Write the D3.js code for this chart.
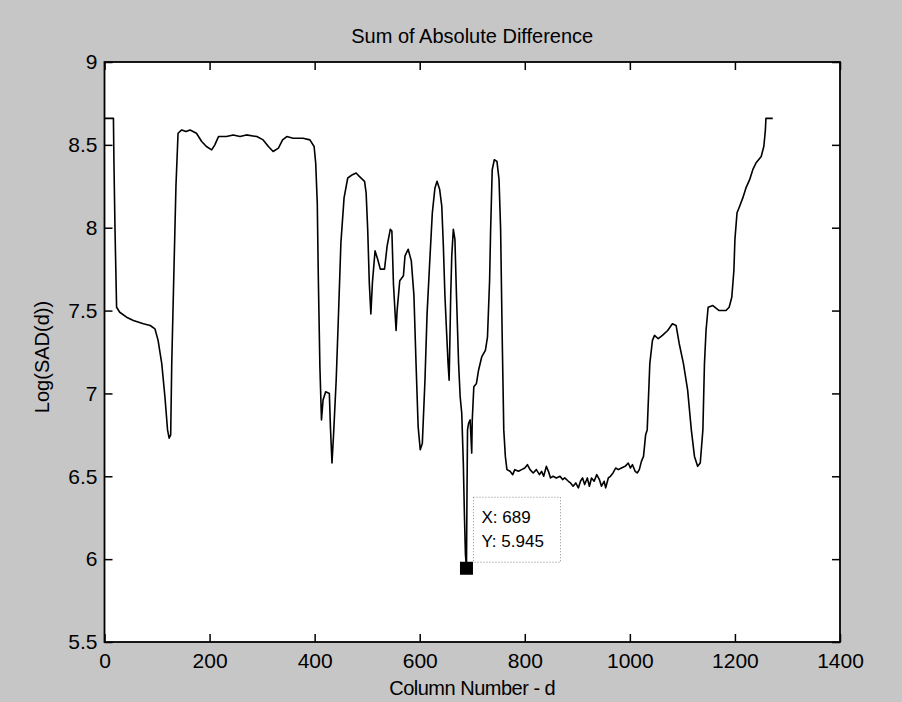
<!DOCTYPE html>
<html>
<head>
<meta charset="utf-8">
<script src="https://cdn.jsdelivr.net/npm/d3@7"></script>
<style>
  body { margin: 0; background: #c6c6c6; }
  svg { display: block; }
</style>
</head>
<body>
<svg id="svg1" width="902" height="702"></svg>
<script>
// column number d
var colNum = [0, 17, 18, 20, 23, 29, 42, 55, 74, 87, 96, 102, 109, 115, 120, 123, 126, 128, 132, 136,
  140, 147, 155, 163, 175, 185, 194, 204, 210, 217, 232, 245, 258, 270, 290, 302, 312, 321, 331, 339,
  347, 359, 378, 391, 399, 402, 405, 407, 410, 413, 416, 421, 428, 430, 433, 436, 441, 445, 450, 456,
  463, 472, 479, 485, 495, 498, 501, 504, 507, 510, 515, 520, 525, 533, 538, 544, 547, 550, 555, 557,
  562, 569, 572, 578, 584, 589, 593, 597, 601, 605, 610, 614, 619, 624, 629, 633, 638, 642, 645, 648,
  651, 654, 656, 659, 661, 664, 667, 670, 674, 677, 680, 683, 685, 687, 689, 690, 691, 693, 696, 699,
  700, 703, 708, 712, 718, 725, 729, 733, 735, 738, 742, 747, 751, 754, 757, 760, 763,
  766, 772, 777, 781, 788, 794, 800, 805, 810, 816, 822, 828, 832, 836, 841, 845, 849, 854, 860,
  867, 872, 876, 883, 887, 892, 897, 902, 906, 910, 914, 919, 923, 927, 932, 937, 942, 946, 951,
  954, 959, 963, 968, 973, 978, 984, 991, 997, 1001, 1005, 1010, 1014, 1018, 1022, 1026, 1030,
  1033, 1038, 1043, 1047, 1054, 1062, 1072, 1081, 1088, 1094, 1102, 1110, 1117, 1123, 1129, 1134,
  1139, 1142, 1145, 1149, 1158, 1170, 1183, 1189, 1194, 1198, 1200, 1204, 1209, 1215, 1221, 1228,
  1234, 1240, 1250, 1255, 1258, 1259, 1272];

// Log(SAD(d))
var logSad = [8.66, 8.66, 8.39, 7.99, 7.52, 7.49, 7.46, 7.44, 7.42, 7.41, 7.39, 7.32, 7.18, 6.98, 6.78, 6.73, 6.75, 7.18, 7.72, 8.25,
  8.57, 8.59, 8.58, 8.59, 8.57, 8.52, 8.49, 8.47, 8.50, 8.55, 8.55, 8.56, 8.55, 8.56, 8.55, 8.53, 8.49, 8.46, 8.48, 8.53,
  8.55, 8.54, 8.54, 8.53, 8.49, 8.39, 8.15, 7.70, 7.16, 6.84, 6.96, 7.01, 7.00, 6.80, 6.58, 6.75, 7.08, 7.44, 7.91, 8.18,
  8.30, 8.32, 8.33, 8.31, 8.28, 8.21, 7.99, 7.67, 7.48, 7.67, 7.86, 7.81, 7.75, 7.75, 7.89, 7.99, 7.98, 7.66, 7.38, 7.50,
  7.68, 7.71, 7.83, 7.87, 7.80, 7.59, 7.18, 6.80, 6.66, 6.70, 7.08, 7.48, 7.79, 8.09, 8.24, 8.28, 8.23, 8.13, 7.89, 7.59,
  7.38, 7.18, 7.08, 7.59, 7.83, 7.99, 7.93, 7.59, 7.18, 6.98, 6.88, 6.58, 6.28, 6.03, 5.945, 6.40, 6.78, 6.82, 6.84, 6.64,
  6.84, 7.04, 7.06, 7.14, 7.22, 7.26, 7.34, 7.68, 7.99, 8.35, 8.41, 8.40, 8.29, 7.99, 7.34, 6.78, 6.62,
  6.54, 6.53, 6.51, 6.54, 6.53, 6.54, 6.55, 6.57, 6.54, 6.52, 6.54, 6.51, 6.53, 6.50, 6.56, 6.53, 6.49, 6.50, 6.49,
  6.50, 6.48, 6.49, 6.47, 6.46, 6.44, 6.46, 6.43, 6.47, 6.49, 6.45, 6.49, 6.44, 6.49, 6.47, 6.51, 6.48, 6.44, 6.47,
  6.43, 6.49, 6.50, 6.52, 6.55, 6.54, 6.55, 6.56, 6.58, 6.55, 6.57, 6.53, 6.52, 6.54, 6.59, 6.62, 6.75,
  6.78, 7.18, 7.32, 7.35, 7.33, 7.35, 7.38, 7.42, 7.41, 7.30, 7.18, 7.02, 6.78, 6.62, 6.56, 6.58,
  6.78, 7.18, 7.38, 7.52, 7.53, 7.50, 7.50, 7.52, 7.58, 7.74, 7.93, 8.09, 8.13, 8.18, 8.24, 8.29,
  8.35, 8.39, 8.43, 8.49, 8.59, 8.66, 8.66];

var xTicks = [0, 200, 400, 600, 800, 1000, 1200, 1400];
var yTicks = [5.5, 6, 6.5, 7, 7.5, 8, 8.5, 9];

// data tip
var tipX = 689;
var tipY = 5.945;

var width = 902;
var height = 702;
var marginLeft = 104.5;
var marginTop = 62;
var plotW = 840 - marginLeft;
var plotH = 642 - marginTop;

var svg0 = d3.select('#svg1');

// gray figure background
svg0.append('rect')
    .attr('width', width).attr('height', height)
    .attr('fill', '#c6c6c6');

var svg = svg0.append('g')
    .attr('transform', 'translate(' + marginLeft + ',' + marginTop + ')');

var scaleX = d3.scaleLinear().domain([0, 1400]).range([0, plotW]);
var scaleY = d3.scaleLinear().domain([5.5, 9]).range([plotH, 0]);

// white plot area
svg.append('rect')
    .attr('width', plotW).attr('height', plotH)
    .attr('fill', 'white');

var font = 'Arial, "Liberation Sans", Helvetica, sans-serif';

function styleAxis(g) {
    g.select('.domain').remove();
    g.selectAll('.tick line').attr('stroke', 'black').attr('stroke-width', 1.5);
    g.selectAll('.tick text')
        .attr('font-family', font)
        .attr('font-size', 21)
        .attr('fill', 'black');
}

// bottom axis (ticks inside)
svg.append('g')
    .attr('transform', 'translate(0,' + plotH + ')')
    .call(d3.axisBottom(scaleX).tickValues(xTicks).tickSizeInner(-8).tickSizeOuter(0).tickPadding(11)
        .tickFormat(d3.format('d')))
    .call(styleAxis);

// top axis, no labels
svg.append('g')
    .call(d3.axisTop(scaleX).tickValues(xTicks).tickSizeInner(-8).tickSizeOuter(0).tickFormat(''))
    .call(styleAxis);

// left axis
svg.append('g')
    .call(d3.axisLeft(scaleY).tickValues(yTicks).tickSizeInner(-8).tickSizeOuter(0).tickPadding(7)
        .tickFormat(function(d){ return String(d); }))
    .call(styleAxis);

// right axis, no labels
svg.append('g')
    .attr('transform', 'translate(' + plotW + ',0)')
    .call(d3.axisRight(scaleY).tickValues(yTicks).tickSizeInner(-8).tickSizeOuter(0).tickFormat(''))
    .call(styleAxis);

// the curve
var points = colNum.map(function(c, i){ return [c, logSad[i]]; });

var line = d3.line()
    .x(function(d){ return scaleX(d[0]); })
    .y(function(d){ return scaleY(d[1]); });

svg.append('path')
    .datum(points)
    .attr('d', line)
    .attr('fill', 'none')
    .attr('stroke', 'black')
    .attr('stroke-width', 1.6)
    .attr('stroke-linejoin', 'round');

// plot box
svg.append('rect')
    .attr('width', plotW).attr('height', plotH)
    .attr('fill', 'none')
    .attr('stroke', 'black')
    .attr('stroke-width', 1.8);

// data tip marker and box
var mx = scaleX(tipX);
var my = scaleY(tipY);
svg.append('rect')
    .attr('x', mx - 6.5).attr('y', my - 6.5)
    .attr('width', 13).attr('height', 13)
    .attr('fill', 'black');

var tip = svg.append('g')
    .attr('transform', 'translate(' + (mx + 7) + ',' + (my - 71) + ')');
tip.append('rect')
    .attr('width', 87).attr('height', 65)
    .attr('fill', 'white')
    .attr('stroke', '#888')
    .attr('stroke-width', 1)
    .attr('stroke-dasharray', '1,2');
tip.append('text')
    .attr('x', 8).attr('y', 26)
    .attr('font-family', font).attr('font-size', 17)
    .text('X: ' + tipX);
tip.append('text')
    .attr('x', 8).attr('y', 50)
    .attr('font-family', font).attr('font-size', 17)
    .text('Y: ' + tipY);

// title and axis labels
svg0.append('text')
    .attr('x', marginLeft + plotW / 2).attr('y', 43)
    .attr('text-anchor', 'middle')
    .attr('font-family', font).attr('font-size', 20)
    .text('Sum of Absolute Difference');

svg0.append('text')
    .attr('x', marginLeft + plotW / 2).attr('y', 695)
    .attr('text-anchor', 'middle')
    .attr('font-family', font).attr('font-size', 20)
    .attr('letter-spacing', -0.5)
    .text('Column Number - d');

svg0.append('text')
    .attr('transform', 'translate(49,' + (marginTop + plotH / 2 + 5) + ') rotate(-90)')
    .attr('text-anchor', 'middle')
    .attr('font-family', font).attr('font-size', 20)
    .text('Log(SAD(d))');
</script>
</body>
</html>
